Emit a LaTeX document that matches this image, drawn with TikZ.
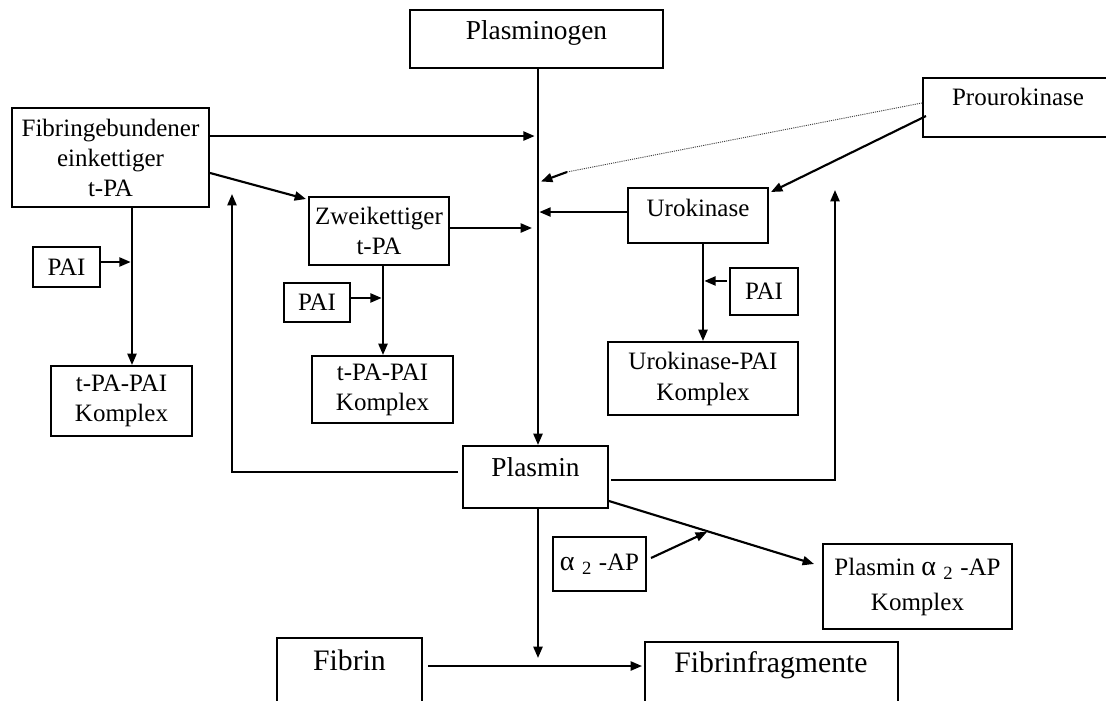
\documentclass[tikz,border=0pt]{standalone}
\usepackage{fontspec}
\setmainfont{Liberation Serif}
\usetikzlibrary{arrows.meta}
\newcommand\fsz[2]{\fontsize{#1}{#2}\selectfont}
\newcommand\subtwo{\raisebox{-3pt}{\fontsize{14pt}{14pt}\selectfont 2}}
\newcommand\alf{{\fontsize{21pt}{22pt}\selectfont α}}
\begin{document}
\begin{tikzpicture}[x=0.75pt,y=-0.75pt,
  box/.style={draw, line width=1.5pt, inner sep=0pt, align=center},
  conn/.style={line width=1.6pt, -{Triangle[length=8.5pt,width=6.8pt]}},
  dotline/.style={line width=0.7pt, dash pattern=on 0.8pt off 0.8pt, black!75},
  txt/.style={font=\fsz{18.75pt}{22.5pt}},
  big/.style={font=\fsz{20.5pt}{24pt}},
  bigger/.style={font=\fsz{22.3pt}{26pt}}]
\useasboundingbox (0,0) rectangle (1106,700);
\clip (0,0) rectangle (1106,700);

% boxes
\node[box, minimum width=189.75pt, minimum height=43.5pt] (plg) at (536.5,39) {};
\node[big] (plgt) at (536.5,32.5) {Plasminogen};
\node[box, minimum width=142.5pt, minimum height=44.25pt] (pro) at (1018,107.5) {};
\node[txt] (prot) at (1018,97) {Prourokinase};
\node[box, txt, minimum width=147.75pt, minimum height=74.25pt] (fib) at (110.5,157.5) {Fibringebundener\\einkettiger\\t-PA};
\node[box, txt, minimum width=105pt, minimum height=51pt] (zw) at (379,231) {Zweikettiger\\t-PA};
\node[box, minimum width=105pt, minimum height=41.25pt] (uro) at (698,215.5) {};
\node[txt] (urot) at (698,207.5) {Urokinase};
\node[box, txt, minimum width=50.25pt, minimum height=30pt] (pai1) at (66.5,267) {PAI};
\node[box, txt, minimum width=49.5pt, minimum height=29.25pt] (pai2) at (317,302.5) {PAI};
\node[box, txt, minimum width=51pt, minimum height=35.25pt] (pai3) at (764,291.5) {PAI};
\node[box, txt, minimum width=105.75pt, minimum height=52.5pt] (tp1) at (121.5,401) {t-PA-PAI\\Komplex};
\node[box, txt, minimum width=105.75pt, minimum height=50.25pt] (tp2) at (382.5,389.5) {t-PA-PAI\\Komplex};
\node[box, font=\fsz{18.75pt}{23.25pt}, minimum width=142.5pt, minimum height=54.75pt] (ukp) at (703,378.5) {Urokinase-PAI\\Komplex};
\node[box, minimum width=108.75pt, minimum height=46.5pt] (pl) at (535.5,477) {};
\node[big] (plt) at (535.5,467.5) {Plasmin};
\node[box, txt, minimum width=69.75pt, minimum height=40.5pt] (ap) at (599.5,564) {\alf\hspace{0.3em}\subtwo\hspace{0.3em}-AP};
\node[box, font=\fsz{18.75pt}{26.25pt}, minimum width=141.75pt, minimum height=63.75pt] (pak) at (917.5,586.5) {Plasmin \alf\hspace{0.3em}\subtwo\hspace{0.3em}-AP\\Komplex};
\node[box, minimum width=108.75pt, minimum height=69pt] (fb) at (349.5,684) {};
\node[bigger] (fbt) at (349.5,660.5) {Fibrin};
\node[box, minimum width=189.75pt, minimum height=66pt] (ff) at (771.5,686) {};
\node[bigger] (fft) at (771,665.5) {Fibrinfragmente};

% helper coordinates
\coordinate (mx) at (538,0);
\coordinate (dd) at (567,172);
\coordinate (dm) at (541,181.5);
\coordinate (v1) at (132,0);
\coordinate (v2) at (383,0);
\coordinate (lup) at (232,194);
\coordinate (rup) at (835,190);
\coordinate (apt) at (707,532);
\coordinate (fdown) at (538,658);
\coordinate (fy) at (0,666);

% main axis
\draw[conn] (plg.south -| mx) -- (pl.north -| mx);
% fibringebundener
\draw[conn, shorten >=2.5pt] ([yshift=16.1pt]fib.east) -- ([yshift=16.1pt]fib.east -| mx);
\draw[conn] ([yshift=-11.6pt]fib.east) -- ([xshift=-1.5pt,yshift=-2.25pt]zw.north west);
\draw[conn] (fib.south -| v1) -- (tp1.north -| v1);
\draw[conn, shorten >=1pt] ([yshift=3.75pt]pai1.east) -- ([yshift=3.75pt]pai1.east -| v1);
% zweikettiger
\draw[conn, shorten >=4.5pt] ([yshift=2.25pt]zw.east) -- ([yshift=2.25pt]zw.east -| mx);
\draw[conn] (zw.south -| v2) -- (tp2.north -| v2);
\draw[conn, shorten >=1pt] ([yshift=3.4pt]pai2.east) -- ([yshift=3.4pt]pai2.east -| v2);
% prourokinase / urokinase
\draw[dotline] ([yshift=3.4pt]pro.west) -- (dd);
\draw[conn] (dd) -- (dm);
\draw[conn] ([xshift=3pt,yshift=-6.4pt]pro.west) -- ([xshift=1.5pt,yshift=-3.75pt]uro.north east);
\draw[conn, shorten >=1pt] ([yshift=2.6pt]uro.west) -- ([yshift=2.6pt]uro.west -| mx);
\draw[conn] (uro.south -| ukp.north) -- (ukp.north);
\draw[conn, shorten >=1pt] ([xshift=-1.5pt,yshift=7.9pt]pai3.west) -- ([yshift=7.9pt]pai3.west -| ukp.north);
% plasmin feedback
\draw[conn] ([xshift=-3pt,yshift=3.75pt]pl.west) -| (lup);
\draw[conn] ([xshift=1.5pt,yshift=-2.25pt]pl.east) -| (rup);
% plasmin downstream
\draw[conn] ([yshift=6pt]pl.south east) -- ([xshift=-6pt,yshift=-15.75pt]pak.north west);
\draw[conn] ([xshift=3pt,yshift=4.5pt]ap.east) -- (apt);
\draw[conn] (pl.south -| mx) -- (fdown);
\draw[conn, shorten >=1.5pt] ([xshift=3.75pt]fb.east |- fy) -- (ff.west |- fy);
\end{tikzpicture}
\end{document}
